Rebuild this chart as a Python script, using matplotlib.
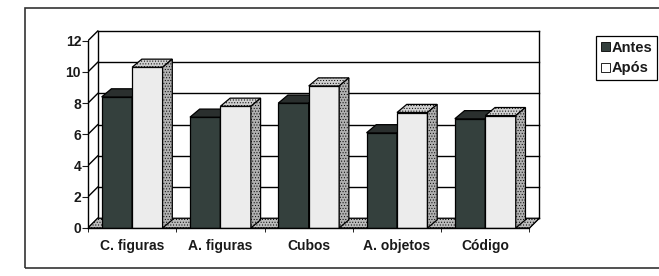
import matplotlib
matplotlib.use("Agg")
import matplotlib.pyplot as plt
from matplotlib.patches import Polygon, Rectangle, Patch

plt.rcParams['font.family'] = ['Liberation Sans', 'DejaVu Sans']
plt.rcParams['hatch.linewidth'] = 0.4
plt.rcParams['hatch.color'] = '#555555'

categories = ["C. figuras", "A. figuras", "Cubos", "A. objetos", "Código"]
antes = [8.4, 7.1, 8.0, 6.1, 7.0]
apos = [10.3, 7.8, 9.1, 7.4, 7.2]
series_names = ["Antes", "Após"]
yticks = [0, 2, 4, 6, 8, 10, 12]

DARK = "#34403d"
DARK_TOP = "#2a2f2e"
LIGHT = "#ececec"
LIGHT_TOP = "#d0d0d0"
LIGHT_SIDE = "#b0b0b0"
FLOOR = "#bcbcbc"

fig = plt.figure(figsize=(6.59, 2.76), dpi=100)
fig.patch.set_facecolor("white")
ax = fig.add_axes([0.1335, 0.174, 0.690, 0.718])
ax.set_xlim(0, 5.15)
ax.set_ylim(0, 12.7)

# 3D offsets
wdx, wdy = 0.11, 0.62   # walls
bdx, bdy = 0.11, 0.52   # bars
w = 0.345
n = len(categories)
ymax = yticks[-1]

# floor
ax.add_patch(Polygon([(0, 0), (n, 0), (n + wdx, wdy), (wdx, wdy)], closed=True,
                     facecolor=FLOOR, edgecolor="black", lw=0.8, zorder=1, hatch="......"))
# back wall grid
for yv in yticks:
    ax.plot([wdx, n + wdx], [yv + wdy, yv + wdy], color="black", lw=1.0, zorder=0.5)
    ax.plot([0, wdx], [yv, yv + wdy], color="black", lw=1.0, zorder=0.5)
ax.plot([wdx, wdx], [wdy, ymax + wdy], color="black", lw=1.0, zorder=0.5)
ax.plot([n + wdx, n + wdx], [wdy, ymax + wdy], color="black", lw=1.0, zorder=0.5)
ax.plot([n, n + wdx], [0, wdy], color="black", lw=1.0, zorder=0.5)

def bar3d(x0, h, front, top, side, z, textured):
    ax.bar([x0], [h], width=w, align="edge", color=front, edgecolor="black",
           lw=0.9, zorder=z)
    ax.add_patch(Polygon([(x0, h), (x0 + w, h), (x0 + w + bdx, h + bdy), (x0 + bdx, h + bdy)],
                         closed=True, facecolor=top, edgecolor="black", lw=0.9, zorder=z,
                         hatch="......" if textured else None))
    ax.add_patch(Polygon([(x0 + w, 0), (x0 + w + bdx, bdy), (x0 + w + bdx, h + bdy), (x0 + w, h)],
                         closed=True, facecolor=side, edgecolor="black", lw=0.9, zorder=z,
                         hatch="......" if textured else None))

for i in range(n):
    c = i + 0.5
    bar3d(c - w, antes[i], DARK, DARK_TOP, DARK, 2 + i * 2, False)
    bar3d(c, apos[i], LIGHT, LIGHT_TOP, LIGHT_SIDE, 3 + i * 2, True)

# axes styling
for s in ["top", "right"]:
    ax.spines[s].set_visible(False)
ax.spines["left"].set_bounds(0, ymax)
ax.spines["bottom"].set_bounds(0, n)
ax.spines["left"].set_zorder(20)
ax.spines["bottom"].set_zorder(20)
ax.spines["left"].set_linewidth(1.0)
ax.spines["bottom"].set_linewidth(1.0)
ax.set_yticks(yticks)
ax.set_yticklabels([str(v) for v in yticks], fontweight="bold")
ax.set_xticks([i + 0.5 for i in range(n)])
ax.set_xticklabels(categories, fontweight="bold")
ax.set_xticks(list(range(n + 1)), minor=True)
ax.tick_params(axis="x", which="major", length=0, pad=8, labelsize=10, colors="#1a1a1a")
ax.tick_params(axis="x", which="minor", length=3, direction="out")
ax.tick_params(axis="y", length=4, direction="out", pad=1, labelsize=10, colors="#1a1a1a")
ax.patch.set_alpha(0)

# legend
handles = [Patch(facecolor=DARK, edgecolor="black", lw=0.6),
           Patch(facecolor="white", edgecolor="black", lw=0.6)]
leg = fig.legend(handles, series_names, loc="upper left", bbox_to_anchor=(0.905, 0.868),
                 prop={"size": 10.5, "weight": "bold"}, frameon=True, fancybox=False, framealpha=1,
                 edgecolor="black", handlelength=0.6, handleheight=0.6,
                 handletextpad=0.15, borderpad=0.3, labelspacing=0.45, borderaxespad=0)
leg.get_frame().set_linewidth(0.9)
for t in leg.get_texts():
    t.set_color("#1a1a1a")

# outer chart border
fig.add_artist(Rectangle((25 / 659, 0.03), 1.0, 0.94, transform=fig.transFigure,
                         fill=False, edgecolor="#333333", lw=1.2, clip_on=False))

fig.savefig("out.png", dpi=100)
